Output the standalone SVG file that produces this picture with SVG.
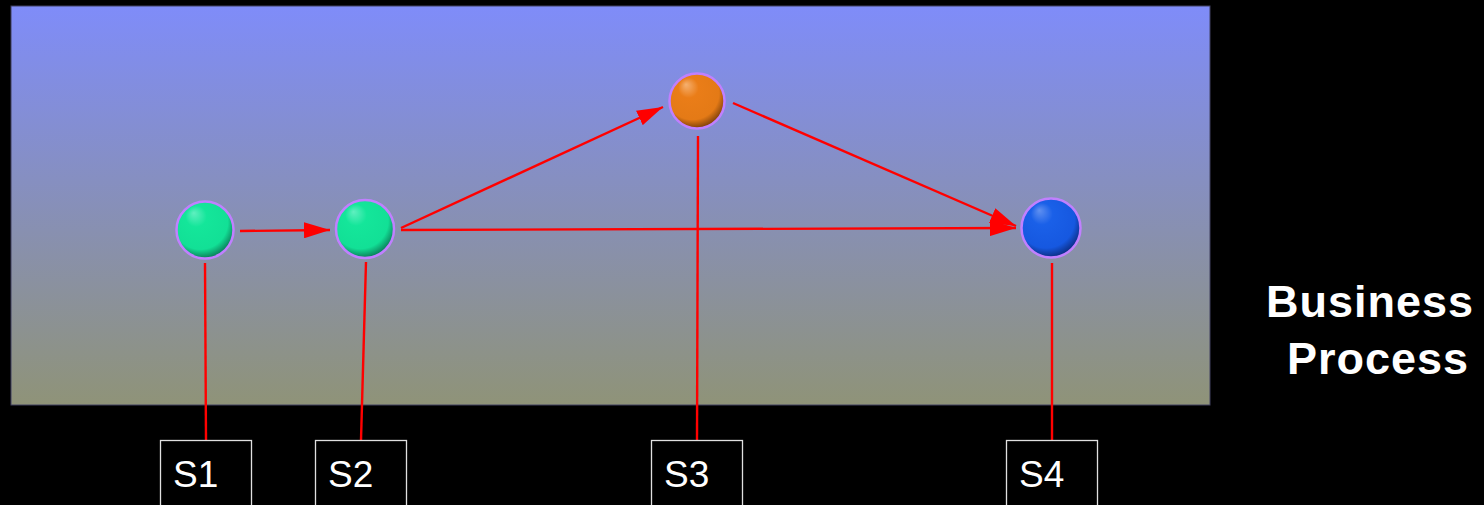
<svg xmlns="http://www.w3.org/2000/svg" width="1484" height="505" viewBox="0 0 1484 505">
<defs>
<linearGradient id="bg" x1="0" y1="0" x2="0" y2="1">
<stop offset="0" stop-color="#7f8cf9"/>
<stop offset="1" stop-color="#8f9378"/>
</linearGradient>
<radialGradient id="gGreen" cx="0.45" cy="0.4" r="0.62" fx="0.3" fy="0.2">
<stop offset="0" stop-color="#60efc0"/>
<stop offset="0.3" stop-color="#14e69a"/>
<stop offset="0.78" stop-color="#12e096"/>
<stop offset="1" stop-color="#0a7050"/>
</radialGradient>
<radialGradient id="gOrange" cx="0.45" cy="0.4" r="0.62" fx="0.3" fy="0.2">
<stop offset="0" stop-color="#f5b070"/>
<stop offset="0.3" stop-color="#ea7d18"/>
<stop offset="0.78" stop-color="#e47a16"/>
<stop offset="1" stop-color="#703808"/>
</radialGradient>
<radialGradient id="gBlue" cx="0.45" cy="0.4" r="0.62" fx="0.3" fy="0.2">
<stop offset="0" stop-color="#6090f0"/>
<stop offset="0.3" stop-color="#1a60e8"/>
<stop offset="0.78" stop-color="#1658e0"/>
<stop offset="1" stop-color="#0a2878"/>
</radialGradient>
<marker id="ahb" viewBox="0 0 26 16" refX="26" refY="8" markerWidth="26" markerHeight="16" markerUnits="userSpaceOnUse" orient="auto">
<path d="M0,0 L26,8 L0,16 Z" fill="#ff0000"/>
</marker>
<style>
.node{stroke:#c080ff;stroke-width:2.5}
.link{stroke:#ff0000;stroke-width:2.4;fill:none}
.box{fill:#000;stroke:#e0e0e0;stroke-width:1.3}
.lbl{font-family:"Liberation Sans",Arial,sans-serif;font-size:37px;fill:#fff}
.title{font-family:"Liberation Sans",Arial,sans-serif;font-size:45px;font-weight:bold;fill:#fff}
</style>
</defs>
<rect width="1484" height="505" fill="#000"/>
<rect id="panel" x="11" y="6" width="1199" height="399" fill="url(#bg)" stroke="#404060" stroke-width="1"/>
<g id="connectors">
<line class="link" x1="240" y1="231" x2="330" y2="230" marker-end="url(#ahb)"/>
<line class="link" x1="401" y1="228" x2="663" y2="107" marker-end="url(#ahb)"/>
<line class="link" x1="733" y1="103" x2="1016" y2="226" marker-end="url(#ahb)"/>
<line class="link" x1="401" y1="230" x2="1016" y2="228" marker-end="url(#ahb)"/>
<line class="link" x1="205" y1="263" x2="206" y2="440"/>
<line class="link" x1="366" y1="262" x2="361" y2="440"/>
<line class="link" x1="698" y1="136" x2="697" y2="440"/>
<line class="link" x1="1052" y1="263" x2="1052" y2="440"/>
</g>
<g id="n1"><circle class="node" cx="205" cy="230" r="28.5" fill="url(#gGreen)"/></g>
<g id="n2"><circle class="node" cx="365" cy="229" r="29" fill="url(#gGreen)"/></g>
<g id="n3"><circle class="node" cx="697" cy="101" r="27.5" fill="url(#gOrange)"/></g>
<g id="n4"><circle class="node" cx="1051" cy="228" r="29.5" fill="url(#gBlue)"/></g>
<g id="s1"><rect class="box" x="160.5" y="440.5" width="91" height="80"/><text class="lbl" x="173" y="487">S1</text></g>
<g id="s2"><rect class="box" x="315.5" y="440.5" width="91" height="80"/><text class="lbl" x="328" y="487">S2</text></g>
<g id="s3"><rect class="box" x="651.5" y="440.5" width="91" height="80"/><text class="lbl" x="664" y="487">S3</text></g>
<g id="s4"><rect class="box" x="1006.5" y="440.5" width="91" height="80"/><text class="lbl" x="1019" y="487">S4</text></g>
<g id="title">
<text class="title" x="1266" y="317" textLength="207" lengthAdjust="spacing">Business</text>
<text class="title" x="1287" y="374" textLength="181" lengthAdjust="spacing">Process</text>
</g>
</svg>
